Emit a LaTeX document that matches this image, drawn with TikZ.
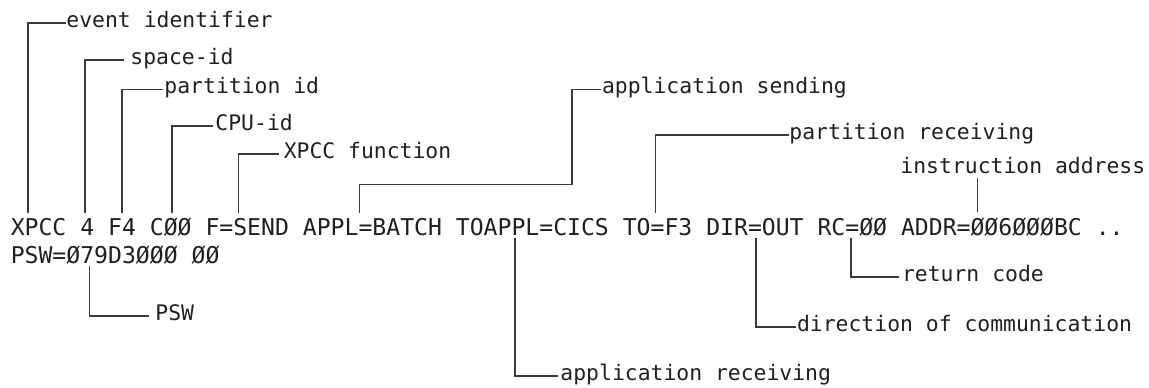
\documentclass[tikz,border=0pt]{standalone}
\usepackage{fontspec}
\newfontfamily\tracefont{DejaVu Sans Mono}
\usetikzlibrary{calc}
\definecolor{ink}{HTML}{231F20}
\definecolor{rule}{HTML}{3A3A3A}
\tikzset{
  trace/.style={anchor=base west, inner sep=0pt, text=ink,
    font=\tracefont\fontsize{17.33}{20}\selectfont},
  lbl/.style={anchor=base west, inner sep=0pt, text=ink,
    font=\tracefont\fontsize{16.05}{19}\selectfont},
  leader/.style={draw=rule, line width=1.2pt, line cap=rect, line join=miter},
}
\begin{document}
\begin{tikzpicture}[x=0.75pt,y=-0.75pt]
\useasboundingbox (0,0) rectangle (1149,387);

% the traced record, two lines
\node[trace] (rec)  at (10.5,235) {XPCC 4 F4 CØØ F=SEND APPL=BATCH TOAPPL=CICS TO=F3 DIR=OUT RC=ØØ ADDR=ØØ6ØØØBC ..};
\node[trace] (psw)  at (10.5,263) {PSW=Ø79D3ØØØ ØØ};

% points on the record that the leaders start from
\coordinate (pEvt)    at (27.7,212);
\coordinate (pSpace)  at (85,212);
\coordinate (pPart)   at (121.7,212);
\coordinate (pCpu)    at (171.7,212);
\coordinate (pFunc)   at (238.3,212);
\coordinate (pAppl)   at (359.3,212);
\coordinate (bAppl)   at (571.7,184.3);
\coordinate (pTo)     at (655.3,212);
\coordinate (pAddr)   at (977.5,211);
\coordinate (pToappl) at (515,239);
\coordinate (pDir)    at (756,239);
\coordinate (pRc)     at (851,239);
\coordinate (pPsw)    at (89.3,266.7);

% field labels
\node[lbl] (lEvt)    at (66.2,27.3)   {event identifier};
\node[lbl] (lSpace)  at (130.2,64.6)  {space-id};
\node[lbl] (lPart)   at (164.2,93.9)  {partition id};
\node[lbl] (lCpu)    at (215.2,130.6) {CPU-id};
\node[lbl] (lFunc)   at (283.5,158.6) {XPCC function};
\node[lbl] (lAppl)   at (601.8,93.9)  {application sending};
\node[lbl] (lTo)     at (789.2,139.6) {partition receiving};
\node[lbl] (lAddr)   at (900.2,173.3) {instruction address};
\node[lbl] (lRc)     at (901.8,281.3) {return code};
\node[lbl] (lPsw)    at (155.2,320.6) {PSW};
\node[lbl] (lDir)    at (796.8,331.3) {direction of communication};
\node[lbl] (lToappl) at (560.2,380.6) {application receiving};

% leaders
\draw[leader] (pEvt)    |- ([shift={(-1.2,-4.6)}]lEvt.base west);
\draw[leader] (pSpace)  |- ([shift={(-7.2,-4.6)}]lSpace.base west);
\draw[leader] (pPart)   |- ([shift={(-2.5,-4.6)}]lPart.base west);
\draw[leader] (pCpu)    |- ([shift={(-3.5,-4.6)}]lCpu.base west);
\draw[leader] (pFunc)   |- ([shift={(-5.2,-4.6)}]lFunc.base west);
\draw[leader] (pAppl)   |- (bAppl) |- ([shift={(-1.8,-4.6)}]lAppl.base west);
\draw[leader] (pTo)     |- ([shift={(-0.9,-4.6)}]lTo.base west);
\draw[leader] (pAddr)   -- (pAddr |- 0,179);
\draw[leader] (pRc)     |- ([shift={(-3.5,-4.6)}]lRc.base west);
\draw[leader] (pPsw)    |- ([shift={(-6.9,-4.6)}]lPsw.base west);
\draw[leader] (pDir)    |- ([shift={(-1.8,-4.6)}]lDir.base west);
\draw[leader] (pToappl) |- ([shift={(-3.5,-4.6)}]lToappl.base west);
\end{tikzpicture}
\end{document}
